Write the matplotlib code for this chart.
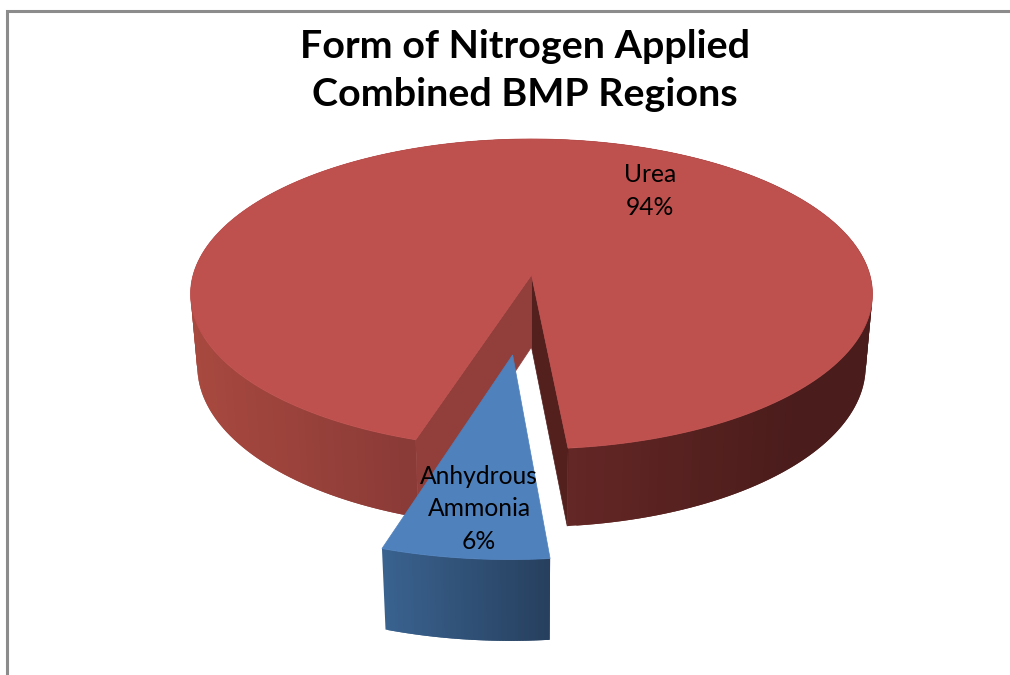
#!/usr/bin/env python
import numpy as np
import matplotlib
matplotlib.use('Agg')
import matplotlib.pyplot as plt
from matplotlib.collections import PolyCollection
from matplotlib.colors import to_rgb

title = 'Form of Nitrogen Applied\nCombined BMP Regions'
categories = ['Urea', 'Anhydrous\nAmmonia']
values = [93.6, 6.4]
top_colors = ['#BE504E', '#4F81BD']

# pie geometry in pixels
x0, y0 = 531.5, 275
rx, ry = 338.4, 152.7
depth = 73.5
persp = 0.1225
persp_z = 0.02
start_deg = -17.6   # blue slice starts here, measured from straight down
explode = 0.495
blue_radius = 1.025


def project(u, v, z=0.0):
    w = 1 / (1 - persp * v + persp_z * z)
    return x0 + rx * u * w, y0 + (ry * v + depth * z) * w


def rim(a0, a1, du=0.0, dv=0.0, r=1.0, n=240):
    a = np.deg2rad(np.linspace(a0, a1, n))
    return r * np.sin(a) + du, r * np.cos(a) + dv


def lerp(c0, c1, t):
    return (1 - t) * np.array(to_rgb(c0)) + t * np.array(to_rgb(c1))


def side(ax, u, v, shade, zorder):
    xt, yt = project(u, v)
    xb, yb = project(u, v, 1)
    n = len(u)
    # each strip runs over the next one so no seams show
    polys = []
    cols = []
    for i in range(n - 1):
        j = min(i + 2, n - 1)
        polys.append([(xt[i], yt[i]), (xt[j], yt[j]), (xb[j], yb[j]), (xb[i], yb[i])])
        cols.append(shade(0.5 * (xt[i] + xt[i + 1])))
    ax.add_collection(PolyCollection(polys, facecolors=cols, edgecolors='none', linewidths=0, zorder=zorder))


def main():
    fig = plt.figure(figsize=(10.1, 6.75), dpi=100)
    ax = fig.add_axes([0, 0, 1, 1])
    ax.set_xlim(0, 1010)
    ax.set_ylim(675, 0)
    ax.axis('off')

    # chart frame, only top and left are in the crop
    ax.plot([1010, 7, 7], [11, 11, 675], color='#8C8C8C', lw=2.2, solid_joinstyle='miter', zorder=1)

    sweep = [v / sum(values) * 360 for v in values]
    blue0 = start_deg
    blue1 = start_deg + sweep[1]

    # urea, goes the long way round from the end of the blue slice
    ux, uy = rim(blue1, blue0 + 360)

    def red_shade(x):
        if x < 450:
            return lerp('#A8493F', '#8A3A37', np.clip((x - 190) / 223, 0, 1))
        return lerp('#642725', '#4A1C1B', np.clip((x - 567) / 230, 0, 1))

    side(ax, ux, uy, red_shade, 2)

    for i, col in [(0, '#54201E'), (-1, '#923F3B')]:
        xa, ya = project(np.array([0, ux[i], ux[i], 0]), np.array([0, uy[i], uy[i], 0]),
                         np.array([0, 0, 1, 1]))
        ax.fill(xa, ya, color=col, lw=0.5, zorder=3)

    xt, yt = project(np.r_[0, ux], np.r_[0, uy])
    ax.fill(xt, yt, color=top_colors[0], lw=0.5, zorder=4)

    # anhydrous ammonia, pulled out of the pie
    mid = np.deg2rad(0.5 * (blue0 + blue1))
    du, dv = explode * np.sin(mid), explode * np.cos(mid)
    bx, by = rim(blue0, blue1, du, dv, blue_radius, 60)

    def blue_shade(x):
        return lerp('#3A6390', '#27405F', np.clip((x - 380) / 167, 0, 1))

    side(ax, bx, by, blue_shade, 5)
    xt, yt = project(np.r_[du, bx], np.r_[dv, by])
    ax.fill(xt, yt, color=top_colors[1], lw=0.5, zorder=6)

    ax.text(525, 70.5, title, ha='center', va='center', fontsize=28.4, fontweight='bold',
            family='Lato', color='black', linespacing=1.46, zorder=8)

    labels = ['%s\n%.0f%%' % (c, v) for c, v in zip(categories, values)]
    ax.text(650, 191, labels[0], ha='center', va='center', fontsize=17.7, family='Lato',
            color='black', linespacing=1.51, zorder=8)
    ax.text(479, 509, labels[1], ha='center', va='center', fontsize=17.7, family='Lato',
            color='black', linespacing=1.51, zorder=8)

    fig.savefig('out.png', dpi=100, facecolor='white')


if __name__ == '__main__':
    main()
